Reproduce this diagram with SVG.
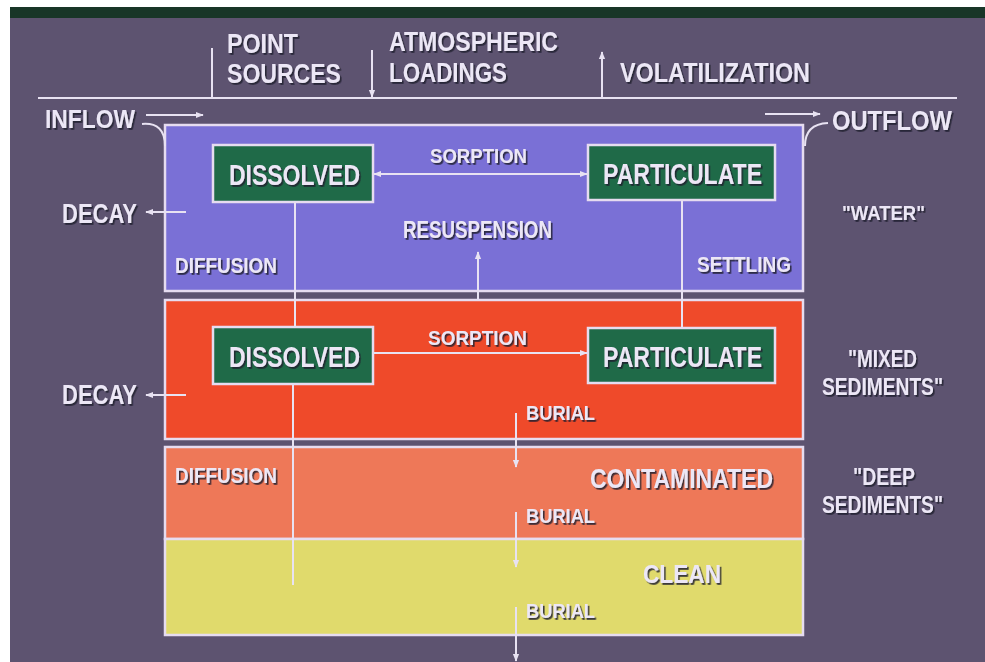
<svg xmlns="http://www.w3.org/2000/svg" width="985" height="662" viewBox="0 0 985 662">
<style>
.t{font-family:"Liberation Sans",Arial,sans-serif;font-weight:bold;fill:#ece7f6;filter:url(#sh)}
.ln{stroke:#e8e2f2;stroke-width:2;fill:none}
.box{stroke:#e6dcf0;stroke-width:2.5}
.g{fill:#1f6a48;stroke:#e6dcf0;stroke-width:2.5}
</style>
<defs>
<filter id="sh" x="-10%" y="-30%" width="120%" height="170%">
<feDropShadow dx="1.6" dy="1.8" stdDeviation="0.6" flood-color="#221c2e" flood-opacity="0.85"/>
</filter>
<marker id="ah" viewBox="0 0 10 10" refX="9" refY="5" markerWidth="4" markerHeight="4" orient="auto-start-reverse">
<path d="M0,1 L10,5 L0,9 z" fill="#e8e2f2"/>
</marker>
</defs>
<rect width="985" height="662" fill="#5d5370"/>
<rect x="0" y="7" width="985" height="11" fill="#183628"/>
<rect x="0" y="0" width="985" height="7" fill="#ffffff"/>
<rect x="0" y="0" width="10" height="662" fill="#ffffff"/>

<g id="layer-water"><rect class="box" x="165" y="125" width="638" height="166" fill="#7a70d6"/></g>
<g id="layer-mixed"><rect class="box" x="165" y="300" width="638" height="139" fill="#ef4a2a"/></g>
<g id="layer-contaminated"><rect class="box" x="165" y="447" width="638" height="92" fill="#ee7858"/></g>
<g id="layer-clean"><rect x="165" y="539" width="638" height="96" fill="#e0da6c" stroke="#e6dcf0" stroke-width="2.5"/></g>

<g id="connectors">
<line class="ln" x1="38" y1="98" x2="957" y2="98"/>
<line class="ln" x1="212" y1="48" x2="212" y2="97"/>
<line class="ln" x1="372" y1="50" x2="372" y2="97" marker-end="url(#ah)"/>
<line class="ln" x1="602" y1="97" x2="602" y2="52" marker-end="url(#ah)"/>
<line class="ln" x1="146" y1="115" x2="203" y2="115" marker-end="url(#ah)"/>
<path class="ln" d="M142,124 Q165,122 165,146"/>
<line class="ln" x1="765" y1="114" x2="820" y2="114" marker-end="url(#ah)"/>
<path class="ln" d="M828,123 Q805,124 805,146"/>
<line class="ln" x1="186" y1="212" x2="146" y2="212" marker-end="url(#ah)"/>
<line class="ln" x1="186" y1="395" x2="146" y2="395" marker-end="url(#ah)"/>
<line class="ln" x1="374" y1="174" x2="587" y2="174" marker-start="url(#ah)" marker-end="url(#ah)"/>
<line class="ln" x1="374" y1="353" x2="587" y2="353" marker-end="url(#ah)"/>
<line class="ln" x1="295" y1="203" x2="295" y2="326"/>
<line class="ln" x1="293" y1="385" x2="293" y2="585"/>
<line class="ln" x1="682" y1="201" x2="682" y2="327"/>
<line class="ln" x1="478" y1="299" x2="478" y2="252" marker-end="url(#ah)"/>
<line class="ln" x1="516" y1="413" x2="516" y2="467" marker-end="url(#ah)"/>
<line class="ln" x1="516" y1="512" x2="516" y2="567" marker-end="url(#ah)"/>
<line class="ln" x1="516" y1="607" x2="516" y2="661" marker-end="url(#ah)"/>
</g>

<g id="water-dissolved"><rect class="g" x="213" y="145" width="160" height="57"/>
<text class="t" x="229" y="185" font-size="29" textLength="131" lengthAdjust="spacingAndGlyphs">DISSOLVED</text></g>
<g id="water-particulate"><rect class="g" x="588" y="145" width="187" height="55"/>
<text class="t" x="603" y="184" font-size="29" textLength="159" lengthAdjust="spacingAndGlyphs">PARTICULATE</text></g>
<g id="mixed-dissolved"><rect class="g" x="213" y="327" width="160" height="57"/>
<text class="t" x="229" y="367" font-size="29" textLength="131" lengthAdjust="spacingAndGlyphs">DISSOLVED</text></g>
<g id="mixed-particulate"><rect class="g" x="588" y="328" width="187" height="55"/>
<text class="t" x="603" y="367" font-size="29" textLength="159" lengthAdjust="spacingAndGlyphs">PARTICULATE</text></g>

<g id="labels">
<text class="t" x="227" y="53" font-size="28" textLength="71" lengthAdjust="spacingAndGlyphs">POINT</text>
<text class="t" x="227" y="83" font-size="28" textLength="114" lengthAdjust="spacingAndGlyphs">SOURCES</text>
<text class="t" x="389" y="51" font-size="28" textLength="169" lengthAdjust="spacingAndGlyphs">ATMOSPHERIC</text>
<text class="t" x="389" y="82" font-size="28" textLength="118" lengthAdjust="spacingAndGlyphs">LOADINGS</text>
<text class="t" x="620" y="82" font-size="28" textLength="190" lengthAdjust="spacingAndGlyphs">VOLATILIZATION</text>
<text class="t" x="45" y="128" font-size="25" textLength="90" lengthAdjust="spacingAndGlyphs">INFLOW</text>
<text class="t" x="832" y="130" font-size="27" textLength="120" lengthAdjust="spacingAndGlyphs">OUTFLOW</text>
<text class="t" x="62" y="223" font-size="27" textLength="75" lengthAdjust="spacingAndGlyphs">DECAY</text>
<text class="t" x="62" y="404" font-size="27" textLength="75" lengthAdjust="spacingAndGlyphs">DECAY</text>
<text class="t" x="430" y="163" font-size="21" textLength="97" lengthAdjust="spacingAndGlyphs">SORPTION</text>
<text class="t" x="428" y="345" font-size="21" textLength="99" lengthAdjust="spacingAndGlyphs">SORPTION</text>
<text class="t" x="403" y="238" font-size="23" textLength="149" lengthAdjust="spacingAndGlyphs">RESUSPENSION</text>
<text class="t" x="175" y="273" font-size="22" textLength="102" lengthAdjust="spacingAndGlyphs">DIFFUSION</text>
<text class="t" x="697" y="272" font-size="22" textLength="94" lengthAdjust="spacingAndGlyphs">SETTLING</text>
<text class="t" x="175" y="483" font-size="22" textLength="102" lengthAdjust="spacingAndGlyphs">DIFFUSION</text>
<text class="t" x="526" y="420" font-size="21" textLength="69" lengthAdjust="spacingAndGlyphs">BURIAL</text>
<text class="t" x="526" y="523" font-size="21" textLength="69" lengthAdjust="spacingAndGlyphs">BURIAL</text>
<text class="t" x="526" y="618" font-size="21" textLength="69" lengthAdjust="spacingAndGlyphs">BURIAL</text>
<text class="t" x="590" y="488" font-size="28" textLength="183" lengthAdjust="spacingAndGlyphs">CONTAMINATED</text>
<text class="t" x="643" y="583" font-size="25" textLength="78" lengthAdjust="spacingAndGlyphs">CLEAN</text>
<text class="t" x="842" y="220" font-size="21" textLength="83" lengthAdjust="spacingAndGlyphs">"WATER"</text>
<text class="t" x="848" y="367" font-size="23" textLength="69" lengthAdjust="spacingAndGlyphs">"MIXED</text>
<text class="t" x="822" y="395" font-size="23" textLength="121" lengthAdjust="spacingAndGlyphs">SEDIMENTS"</text>
<text class="t" x="853" y="485" font-size="23" textLength="62" lengthAdjust="spacingAndGlyphs">"DEEP</text>
<text class="t" x="822" y="513" font-size="23" textLength="121" lengthAdjust="spacingAndGlyphs">SEDIMENTS"</text>
</g>
</svg>
